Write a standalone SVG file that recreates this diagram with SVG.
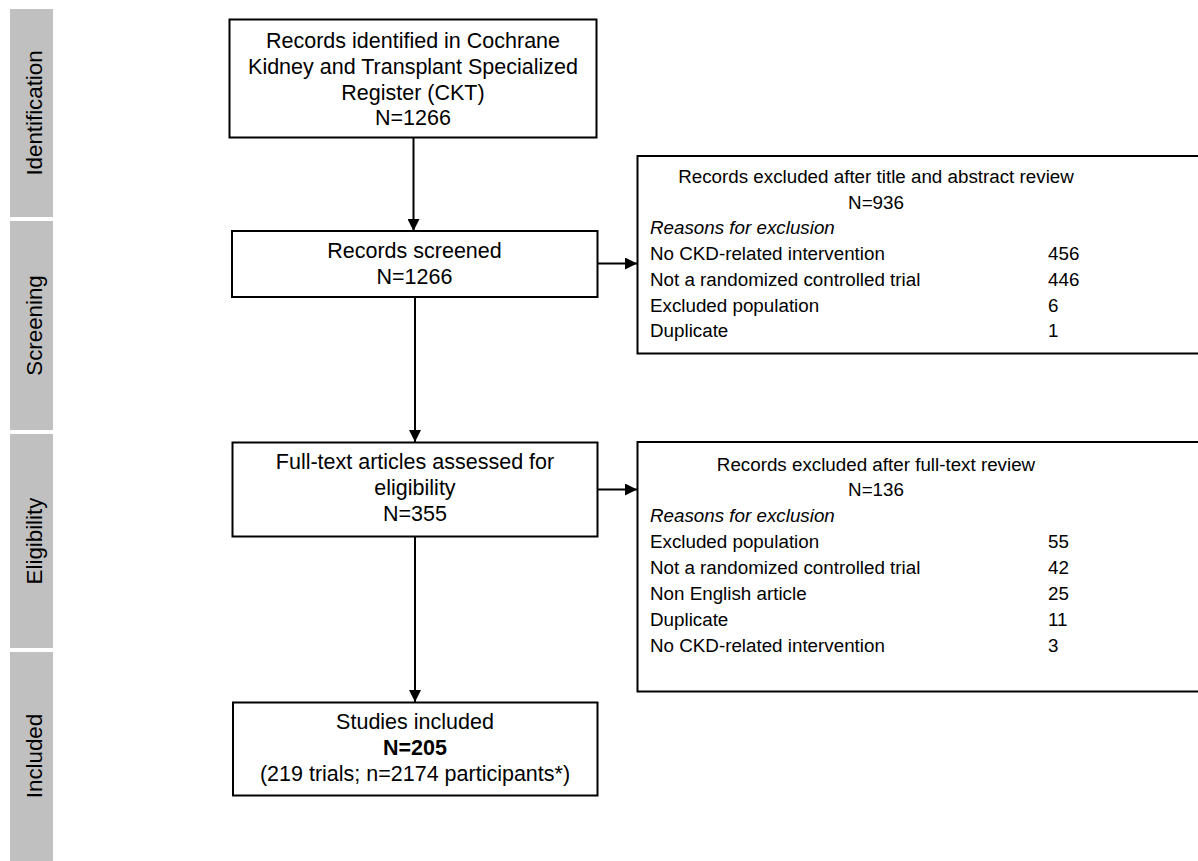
<svg xmlns="http://www.w3.org/2000/svg" width="1198" height="861" viewBox="0 0 1198 861">
<defs>
<style>
text{font-family:"Liberation Sans",Arial,sans-serif;font-size:21.5px;fill:#000}
.c{text-anchor:middle}
.b{font-weight:bold}
.i{font-style:italic}
.s{font-size:18.8px}
.side{font-size:22.3px}
.band{fill:#c0c0c0}
.box{fill:#fff;stroke:#000;stroke-width:2}
.con{stroke:#000;stroke-width:2;fill:none}
</style>
<marker id="ah" markerUnits="userSpaceOnUse" markerWidth="12" markerHeight="12" viewBox="0 0 12 12" refX="12" refY="6" orient="auto">
<path d="M0,0 L12,6 L0,12 Z" fill="#000"/>
</marker>
</defs>
<rect width="1198" height="861" fill="#fff"/>
<g id="sidebar">
<rect class="band" x="10" y="9" width="43" height="208"/>
<rect class="band" x="10" y="221" width="43" height="209"/>
<rect class="band" x="10" y="434" width="43" height="214"/>
<rect class="band" x="10" y="652" width="43" height="209"/>
<text class="c side" transform="translate(41.5,113) rotate(-90)">Identification</text>
<text class="c side" transform="translate(41.5,325.5) rotate(-90)">Screening</text>
<text class="c side" transform="translate(41.5,541) rotate(-90)">Eligibility</text>
<text class="c side" transform="translate(41.5,756) rotate(-90)">Included</text>
</g>
<g id="connectors">
<line class="con" x1="413.5" y1="138" x2="413.5" y2="231" marker-end="url(#ah)"/>
<line class="con" x1="415" y1="297" x2="415" y2="442" marker-end="url(#ah)"/>
<line class="con" x1="415" y1="537" x2="415" y2="702" marker-end="url(#ah)"/>
<line class="con" x1="598" y1="263.5" x2="637" y2="263.5" marker-end="url(#ah)"/>
<line class="con" x1="598" y1="489.5" x2="637" y2="489.5" marker-end="url(#ah)"/>
</g>
<g id="identified">
<rect class="box" x="229.5" y="19.5" width="367" height="118"/>
<text class="c" x="413" y="48">Records identified in Cochrane</text>
<text class="c" x="413" y="74">Kidney and Transplant Specialized</text>
<text class="c" x="413" y="100">Register (CKT)</text>
<text class="c" x="413" y="125">N=1266</text>
</g>
<g id="screened">
<rect class="box" x="232" y="231" width="365.5" height="66"/>
<text class="c" x="414.5" y="258">Records screened</text>
<text class="c" x="414.5" y="284">N=1266</text>
</g>
<g id="excluded1">
<rect class="box" x="637.5" y="156" width="600" height="197.5"/>
<text class="c s" x="876" y="183">Records excluded after title and abstract review</text>
<text class="c s" x="876" y="209">N=936</text>
<text class="i s" x="650" y="234">Reasons for exclusion</text>
<text class="s" x="650" y="260">No CKD-related intervention</text>
<text class="s" x="1048" y="260">456</text>
<text class="s" x="650" y="286">Not a randomized controlled trial</text>
<text class="s" x="1048" y="286">446</text>
<text class="s" x="650" y="312">Excluded population</text>
<text class="s" x="1048" y="312">6</text>
<text class="s" x="650" y="337">Duplicate</text>
<text class="s" x="1048" y="337">1</text>
</g>
<g id="eligibility">
<rect class="box" x="232.5" y="442.5" width="365" height="94"/>
<text class="c" x="415" y="469">Full-text articles assessed for</text>
<text class="c" x="415" y="495">eligibility</text>
<text class="c" x="415" y="521">N=355</text>
</g>
<g id="excluded2">
<rect class="box" x="637.5" y="442" width="600" height="249.5"/>
<text class="c s" x="876" y="471">Records excluded after full-text review</text>
<text class="c s" x="876" y="496">N=136</text>
<text class="i s" x="650" y="522">Reasons for exclusion</text>
<text class="s" x="650" y="548">Excluded population</text>
<text class="s" x="1048" y="548">55</text>
<text class="s" x="650" y="574">Not a randomized controlled trial</text>
<text class="s" x="1048" y="574">42</text>
<text class="s" x="650" y="600">Non English article</text>
<text class="s" x="1048" y="600">25</text>
<text class="s" x="650" y="626">Duplicate</text>
<text class="s" x="1048" y="626">11</text>
<text class="s" x="650" y="652">No CKD-related intervention</text>
<text class="s" x="1048" y="652">3</text>
</g>
<g id="included">
<rect class="box" x="233" y="702.5" width="364.5" height="93"/>
<text class="c" x="415" y="729">Studies included</text>
<text class="c b" x="415" y="755">N=205</text>
<text class="c" x="415" y="781">(219 trials; n=2174 participants*)</text>
</g>
</svg>
